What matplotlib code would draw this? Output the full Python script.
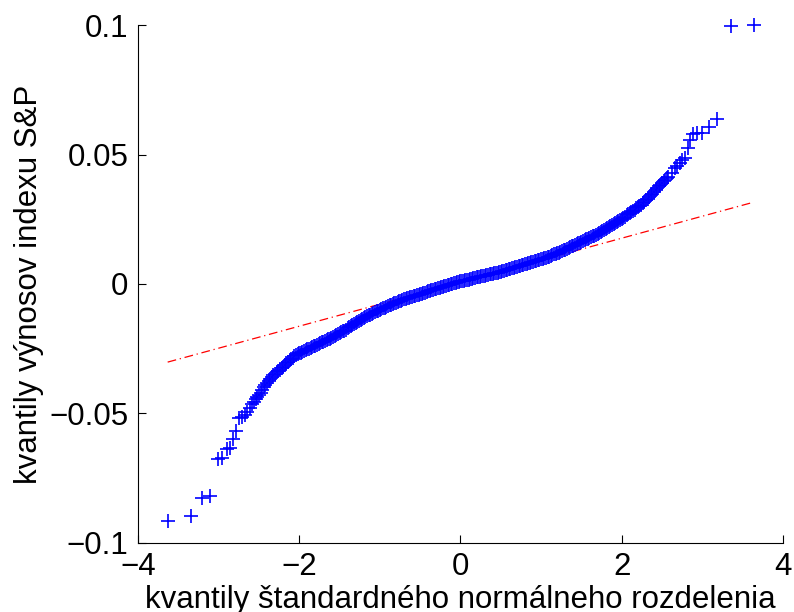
import matplotlib
matplotlib.use("Agg")
import matplotlib.pyplot as plt
import numpy as np

plt.rcParams['font.family'] = ['Liberation Sans', 'DejaVu Sans']

# ---- data (theoretical normal quantile, sample quantile) ----
tail_low_x = [-3.632, -3.343, -3.203, -3.104, -3.009, -2.955, -2.901, -2.860,
              -2.823, -2.786, -2.748, -2.711, -2.678, -2.645, -2.612]
tail_low_y = [-0.0915, -0.0895, -0.0828, -0.0819, -0.0676, -0.0671, -0.0638, -0.0635,
              -0.0600, -0.0567, -0.0517, -0.0513, -0.0505, -0.0493, -0.0480]

body_x = [
    -2.58, -2.56, -2.54, -2.52, -2.50, -2.48, -2.46, -2.44, -2.42, -2.40,
    -2.38, -2.36, -2.34, -2.32, -2.30, -2.28, -2.26, -2.24, -2.22, -2.20,
    -2.18, -2.16, -2.14, -2.12, -2.10, -2.08, -2.06, -2.04, -2.02, -2.00,
    -1.98, -1.96, -1.94, -1.92, -1.90, -1.88, -1.86, -1.84, -1.82, -1.80,
    -1.78, -1.76, -1.74, -1.72, -1.70, -1.68, -1.66, -1.64, -1.62, -1.60,
    -1.58, -1.56, -1.54, -1.52, -1.50, -1.48, -1.46, -1.44, -1.42, -1.40,
    -1.38, -1.36, -1.34, -1.32, -1.30, -1.28, -1.26, -1.24, -1.22, -1.20,
    -1.18, -1.16, -1.14, -1.12, -1.10, -1.08, -1.06, -1.04, -1.02, -1.00,
    -0.98, -0.96, -0.94, -0.92, -0.90, -0.88, -0.86, -0.84, -0.82, -0.80,
    -0.78, -0.76, -0.74, -0.72, -0.70, -0.68, -0.66, -0.64, -0.62, -0.60,
    -0.58, -0.56, -0.54, -0.52, -0.50, -0.48, -0.46, -0.44, -0.42, -0.40,
    -0.38, -0.36, -0.34, -0.32, -0.30, -0.28, -0.26, -0.24, -0.22, -0.20,
    -0.18, -0.16, -0.14, -0.12, -0.10, -0.08, -0.06, -0.04, -0.02, 0.00,
    0.02, 0.04, 0.06, 0.08, 0.10, 0.12, 0.14, 0.16, 0.18, 0.20,
    0.22, 0.24, 0.26, 0.28, 0.30, 0.32, 0.34, 0.36, 0.38, 0.40,
    0.42, 0.44, 0.46, 0.48, 0.50, 0.52, 0.54, 0.56, 0.58, 0.60,
    0.62, 0.64, 0.66, 0.68, 0.70, 0.72, 0.74, 0.76, 0.78, 0.80,
    0.82, 0.84, 0.86, 0.88, 0.90, 0.92, 0.94, 0.96, 0.98, 1.00,
    1.02, 1.04, 1.06, 1.08, 1.10, 1.12, 1.14, 1.16, 1.18, 1.20,
    1.22, 1.24, 1.26, 1.28, 1.30, 1.32, 1.34, 1.36, 1.38, 1.40,
    1.42, 1.44, 1.46, 1.48, 1.50, 1.52, 1.54, 1.56, 1.58, 1.60,
    1.62, 1.64, 1.66, 1.68, 1.70, 1.72, 1.74, 1.76, 1.78, 1.80,
    1.82, 1.84, 1.86, 1.88, 1.90, 1.92, 1.94, 1.96, 1.98, 2.00,
    2.02, 2.04, 2.06, 2.08, 2.10, 2.12, 2.14, 2.16, 2.18, 2.20,
    2.22, 2.24, 2.26, 2.28, 2.30, 2.32, 2.34, 2.36, 2.38, 2.40,
    2.42, 2.44, 2.46, 2.48, 2.50, 2.52, 2.54, 2.56, 2.58]
body_y = [
    -0.0464, -0.0455, -0.0445, -0.0437, -0.0430, -0.0420, -0.0410, -0.0400, -0.0391, -0.0383,
    -0.0375, -0.0366, -0.0358, -0.0352, -0.0347, -0.0342, -0.0337, -0.0331, -0.0325, -0.0319,
    -0.0313, -0.0307, -0.0301, -0.0295, -0.0290, -0.0285, -0.0280, -0.0275, -0.0271, -0.0268,
    -0.0265, -0.0262, -0.0259, -0.0256, -0.0253, -0.0250, -0.0247, -0.0244, -0.0241, -0.0238,
    -0.0235, -0.0232, -0.0229, -0.0226, -0.0223, -0.0220, -0.0217, -0.0214, -0.0211, -0.0208,
    -0.0204, -0.0201, -0.0197, -0.0194, -0.0190, -0.0187, -0.0183, -0.0180, -0.0176, -0.0172,
    -0.0168, -0.0164, -0.0160, -0.0156, -0.0152, -0.0148, -0.0144, -0.0140, -0.0136, -0.0132,
    -0.0128, -0.0124, -0.0121, -0.0118, -0.0115, -0.0112, -0.0109, -0.0106, -0.0103, -0.0100,
    -0.0097, -0.0094, -0.0091, -0.0088, -0.0085, -0.0082, -0.0080, -0.0077, -0.0075, -0.0072,
    -0.0070, -0.0067, -0.0065, -0.0062, -0.0060, -0.0057, -0.0055, -0.0053, -0.0051, -0.0049,
    -0.0047, -0.0045, -0.0043, -0.0041, -0.0039, -0.0037, -0.0035, -0.0033, -0.0031, -0.0029,
    -0.0027, -0.0025, -0.0023, -0.0021, -0.0019, -0.0017, -0.0015, -0.0013, -0.0011, -0.0009,
    -0.0007, -0.0005, -0.0003, -0.0001, 0.0001, 0.0003, 0.0004, 0.0006, 0.0008, 0.0010,
    0.0011, 0.0013, 0.0014, 0.0016, 0.0017, 0.0019, 0.0020, 0.0022, 0.0023, 0.0025,
    0.0026, 0.0028, 0.0029, 0.0031, 0.0032, 0.0034, 0.0035, 0.0037, 0.0038, 0.0040,
    0.0041, 0.0043, 0.0044, 0.0046, 0.0048, 0.0050, 0.0051, 0.0053, 0.0055, 0.0057,
    0.0059, 0.0061, 0.0063, 0.0065, 0.0067, 0.0069, 0.0071, 0.0073, 0.0074, 0.0076,
    0.0078, 0.0080, 0.0082, 0.0084, 0.0086, 0.0088, 0.0089, 0.0091, 0.0093, 0.0095,
    0.0097, 0.0100, 0.0102, 0.0104, 0.0106, 0.0109, 0.0111, 0.0114, 0.0116, 0.0119,
    0.0121, 0.0124, 0.0127, 0.0130, 0.0133, 0.0136, 0.0139, 0.0142, 0.0145, 0.0148,
    0.0151, 0.0154, 0.0157, 0.0160, 0.0163, 0.0166, 0.0169, 0.0172, 0.0175, 0.0178,
    0.0181, 0.0184, 0.0187, 0.0190, 0.0194, 0.0197, 0.0201, 0.0204, 0.0208, 0.0211,
    0.0215, 0.0219, 0.0223, 0.0227, 0.0231, 0.0235, 0.0239, 0.0243, 0.0247, 0.0251,
    0.0256, 0.0260, 0.0265, 0.0269, 0.0274, 0.0278, 0.0283, 0.0287, 0.0292, 0.0297,
    0.0302, 0.0307, 0.0313, 0.0318, 0.0324, 0.0330, 0.0336, 0.0342, 0.0349, 0.0356,
    0.0363, 0.0370, 0.0378, 0.0384, 0.0391, 0.0397, 0.0403, 0.0408, 0.0414]

tail_high_x = [2.620, 2.657, 2.685, 2.718, 2.752, 2.784, 2.822, 2.851,
               2.884, 2.933, 3.000, 3.082, 3.181, 3.350, 3.636]
tail_high_y = [0.0428, 0.0447, 0.0456, 0.0466, 0.0479, 0.0486, 0.0524, 0.0556,
               0.0580, 0.0582, 0.0585, 0.0608, 0.0636, 0.0998, 0.0999]

# reference line (through the quartiles, extended to the data range)
ref_x = [-3.632, 3.636]
ref_y = [-0.0302, 0.0316]

x_ticks = [-4, -2, 0, 2, 4]
x_tick_labels = ['\u22124', '\u22122', '0', '2', '4']
y_ticks = [-0.1, -0.05, 0, 0.05, 0.1]
y_tick_labels = ['\u22120.1', '\u22120.05', '0', '0.05', '0.1']

x_label = 'kvantily štandardného normálneho rozdelenia'
y_label = 'kvantily výnosov indexu S&P'

# ---- plotting ----
theor_q = np.concatenate([tail_low_x, body_x, tail_high_x])
sample_q = np.concatenate([tail_low_y, body_y, tail_high_y])

fig = plt.figure(figsize=(7.94, 6.12), dpi=100)
ax = fig.add_axes([0.1738, 0.1132, 0.8123, 0.8456])

ax.plot(ref_x, ref_y, color='red', lw=0.9, ls=(0, (7, 3, 1, 3)), zorder=1)
ax.plot(theor_q, sample_q, '+', color='blue', ms=9.5, mew=1.2, zorder=2, clip_on=False)

ax.set_xlim(-4, 4)
ax.set_ylim(-0.1, 0.1)
ax.set_xticks(x_ticks)
ax.set_xticklabels(x_tick_labels)
ax.set_yticks(y_ticks)
ax.set_yticklabels(y_tick_labels)

for s in ['top', 'right']:
    ax.spines[s].set_visible(False)
for s in ['left', 'bottom']:
    ax.spines[s].set_linewidth(0.8)
    ax.spines[s].set_color('black')

ax.tick_params(direction='in', length=6, width=0.8, labelsize=22.5, pad=7, colors='black')
ax.set_xlabel(x_label, fontsize=22.5, labelpad=2)
ax.set_ylabel(y_label, fontsize=22.5, labelpad=4)

fig.savefig('out.png', dpi=100)
